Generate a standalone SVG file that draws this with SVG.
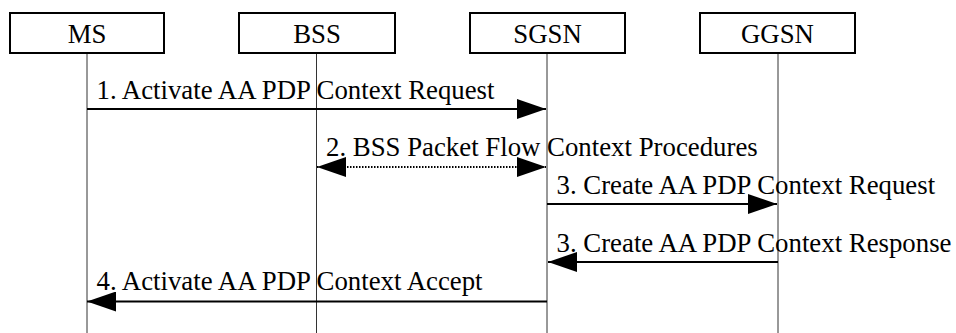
<svg xmlns="http://www.w3.org/2000/svg" width="956" height="333" viewBox="0 0 956 333">
<style>
text{font-family:"Liberation Serif","Times New Roman",serif;font-size:26.8px;fill:#000}
.box{fill:#fff;stroke:#000;stroke-width:2}
.life{stroke:#333;stroke-width:1}
.msg{stroke:#000;stroke-width:2;fill:none}
.dot{stroke:#000;stroke-width:2;stroke-dasharray:1.5 1.5;fill:none}
.c{text-anchor:middle}
</style>
<defs>
<marker id="ah" viewBox="0 0 29 20" refX="29" refY="10" markerWidth="29" markerHeight="20" markerUnits="userSpaceOnUse" orient="auto-start-reverse">
<path d="M0,0 L29,10 L0,20 Z" fill="#000"/>
</marker>
</defs>
<g id="lifelines">
<line class="life" x1="87" y1="53" x2="87" y2="333"/>
<line class="life" x1="316.5" y1="53" x2="316.5" y2="333"/>
<line class="life" x1="547" y1="53" x2="547" y2="333"/>
<line class="life" x1="778" y1="53" x2="778" y2="333"/>
</g>
<g id="MS"><rect class="box" x="10" y="13" width="154" height="40"/><text class="c" x="87" y="42.5" font-family="Liberation Serif, serif">MS</text></g>
<g id="BSS"><rect class="box" x="239" y="13" width="156" height="40"/><text class="c" x="317" y="42.5" font-family="Liberation Serif, serif">BSS</text></g>
<g id="SGSN"><rect class="box" x="470" y="13" width="155" height="40"/><text class="c" x="547.5" y="42.5" font-family="Liberation Serif, serif">SGSN</text></g>
<g id="GGSN"><rect class="box" x="700" y="13" width="155" height="40"/><text class="c" x="777.5" y="42.5" font-family="Liberation Serif, serif">GGSN</text></g>
<g id="connectors">
<line class="msg" x1="87" y1="109" x2="546" y2="109" marker-end="url(#ah)"/>
<line class="dot" x1="317" y1="167" x2="546" y2="167" marker-start="url(#ah)" marker-end="url(#ah)"/>
<line class="msg" x1="547" y1="204" x2="777" y2="204" marker-end="url(#ah)"/>
<line class="msg" x1="778" y1="262" x2="548" y2="262" marker-end="url(#ah)"/>
<line class="msg" x1="547" y1="301.5" x2="87" y2="301.5" marker-end="url(#ah)"/>
</g>
<g id="labels">
<text x="96.5" y="98.5">1. Activate AA PDP Context Request</text>
<text x="326" y="156">2. BSS Packet Flow Context Procedures</text>
<text x="556.5" y="193.5">3. Create AA PDP Context Request</text>
<text x="556.5" y="251.5">3. Create AA PDP Context Response</text>
<text x="96.5" y="290">4. Activate AA PDP Context Accept</text>
</g>
</svg>
